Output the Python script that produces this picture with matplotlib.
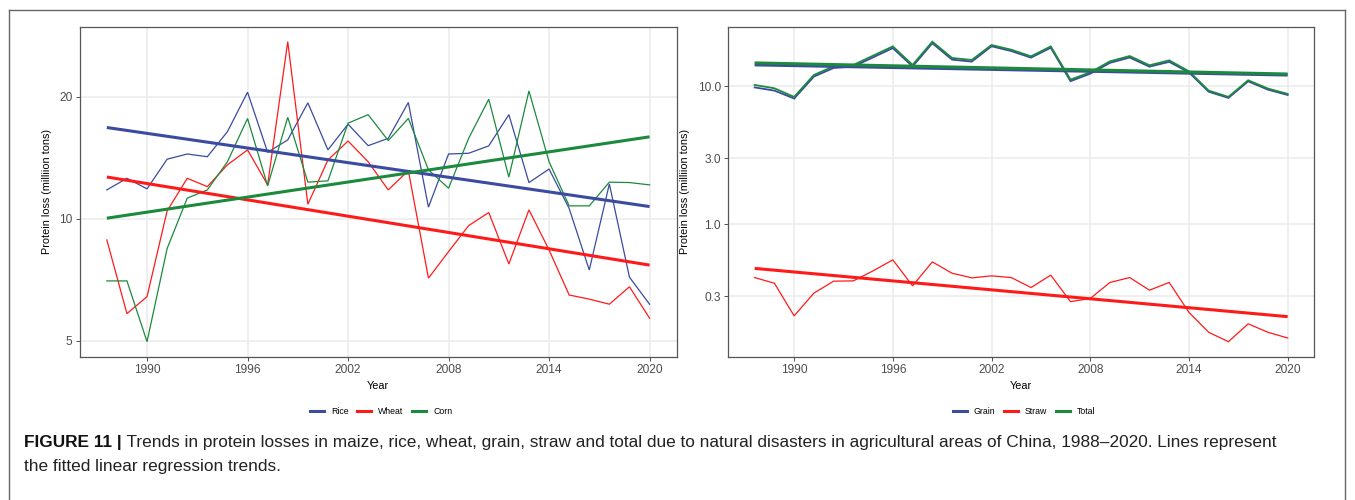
import numpy as np
import matplotlib
matplotlib.use("Agg")
import matplotlib.pyplot as plt
from matplotlib.lines import Line2D

# ---------------- data ----------------
years = [1987.6, 1988.8, 1990.0, 1991.2, 1992.4, 1993.6, 1994.8, 1996.0,
         1997.2, 1998.4, 1999.6, 2000.8, 2002.0, 2003.2, 2004.4, 2005.6,
         2006.8, 2008.0, 2009.2, 2010.4, 2011.6, 2012.8, 2014.0, 2015.2,
         2016.4, 2017.6, 2018.8, 2020.0]

rice = [11.78, 12.58, 11.85, 14.02, 14.44, 14.22, 16.39, 20.5,
        14.58, 15.64, 19.3, 14.78, 17.1, 15.14, 15.78, 19.34,
        10.68, 14.44, 14.5, 15.12, 18.05, 12.28, 13.26, 10.6,
        7.48, 12.18, 7.18, 6.16]

wheat = [8.87, 5.84, 6.43, 10.46, 12.58, 12.0, 13.58, 14.78,
         12.12, 27.3, 10.86, 13.96, 15.54, 13.82, 11.78, 13.14,
         7.14, 8.30, 9.62, 10.36, 7.74, 10.52, 8.38, 6.49,
         6.34, 6.16, 6.80, 5.69]

corn = [7.03, 7.03, 4.98, 8.45, 11.24, 11.78, 13.82, 17.66,
        12.05, 17.78, 12.31, 12.40, 17.2, 18.05, 15.58, 17.67,
        13.2, 11.89, 15.78, 19.7, 12.66, 20.65, 13.82, 10.76,
        10.76, 12.31, 12.28, 12.12]

grain = [9.81, 9.30, 8.15, 11.75, 13.56, 13.88, 16.20, 18.90,
         13.91, 20.50, 15.59, 15.09, 19.48, 17.99, 16.12, 19.02,
         10.89, 12.33, 14.78, 16.15, 13.86, 15.03, 12.60, 9.13,
         8.23, 10.86, 9.45, 8.65]

straw = [0.411, 0.374, 0.217, 0.317, 0.387, 0.389, 0.460, 0.552,
         0.358, 0.534, 0.442, 0.409, 0.423, 0.411, 0.348, 0.428,
         0.275, 0.290, 0.379, 0.411, 0.333, 0.379, 0.230, 0.165,
         0.141, 0.190, 0.165, 0.150]

total = [10.22, 9.67, 8.37, 12.07, 13.95, 14.27, 16.66, 19.45,
         14.27, 21.03, 16.03, 15.5, 19.9, 18.4, 16.47, 19.45,
         11.17, 12.62, 15.16, 16.56, 14.19, 15.41, 12.83, 9.30,
         8.37, 11.05, 9.62, 8.80]

left_names = ["Rice", "Wheat", "Corn"]
right_names = ["Grain", "Straw", "Total"]
x_ticks = [1990, 1996, 2002, 2008, 2014, 2020]
left_yticks = [5, 10, 20]
left_ylabels = ["5", "10", "20"]
right_yticks = [0.3, 1.0, 3.0, 10.0]
right_ylabels = ["0.3", "1.0", "3.0", "10.0"]
x_title = "Year"
y_title = "Protein loss (milliion tons)"
caption_bold = "FIGURE 11 |"
caption_line1 = (" Trends in protein losses in maize, rice, wheat, grain, straw and total due to "
                 "natural disasters in agricultural areas of China, 1988\u20132020. Lines represent")
caption_line2 = "the fitted linear regression trends."

# ---------------- style ----------------
BLUE = "#3B4B9F"
RED = "#FF1A1A"
GREEN = "#1B8A3D"
FONT = "Liberation Sans"
plt.rcParams["font.family"] = [FONT, "DejaVu Sans"]

W, H = 1355, 500
fig = plt.figure(figsize=(W / 100, H / 100), dpi=100)
fig.patch.set_facecolor("white")


def px_axes(x0, y0, x1, y1):
    return fig.add_axes([x0 / W, 1 - y1 / H, (x1 - x0) / W, (y1 - y0) / H])


ax1 = px_axes(79.7, 26.7, 676.7, 356.7)
ax2 = px_axes(728.0, 26.7, 1314.3, 356.7)

xs = np.array(years)


def style(ax, yticks, ylabels, ylabel_x):
    ax.set_yscale("log")
    ax.set_facecolor("white")
    ax.grid(True, which="major", color="#EBEBEB", lw=1.1)
    ax.set_axisbelow(True)
    ax.minorticks_off()
    ax.set_xticks(x_ticks)
    ax.set_xticklabels([str(t) for t in x_ticks])
    ax.set_yticks(yticks)
    ax.set_yticklabels(ylabels)
    ax.tick_params(axis="both", which="major", length=3.2, width=0.6,
                   color="#333333", labelcolor="#4D4D4D", labelsize=8.6, pad=2)
    for s in ax.spines.values():
        s.set_color("#555555")
        s.set_linewidth(0.9)
    ax.set_xlabel(x_title, fontsize=7.8, color="black")
    ax.set_ylabel(y_title, fontsize=7.8, color="black")
    ax.xaxis.set_label_coords(0.5, -0.0736)
    ax.yaxis.set_label_coords(ylabel_x, 0.5)
    # ggplot-like 5% expansion
    span = xs.max() - xs.min()
    ax.set_xlim(xs.min() - 0.05 * span, xs.max() + 0.05 * span)


def draw(ax, series, colors, widths):
    allv = []
    for vals, c, lw in zip(series, colors, widths):
        v = np.array(vals)
        allv.append(v)
        ax.plot(xs, v, color=c, lw=lw, solid_joinstyle="miter", zorder=3)
    for vals, c in zip(series, colors):
        v = np.array(vals)
        coef = np.polyfit(xs, np.log10(v), 1)
        ax.plot(xs, 10 ** np.polyval(coef, xs), color=c, lw=2.2, zorder=4,
                solid_capstyle="butt")
    allv = np.concatenate(allv)
    lo, hi = np.log10(allv.min()), np.log10(allv.max())
    e = 0.05 * (hi - lo)
    ax.set_ylim(10 ** (lo - e), 10 ** (hi + e))


draw(ax1, [rice, wheat, corn], [BLUE, RED, GREEN], [0.9, 0.9, 0.9])
style(ax1, left_yticks, left_ylabels, (52 - 79.7) / 597.0)

draw(ax2, [grain, straw, total], [BLUE, RED, GREEN], [1.3, 0.9, 1.3])
style(ax2, right_yticks, right_ylabels, (690 - 728) / 586.3)

# legends below each panel
for names, cx in ((left_names, (79.7 + 676.7) / 2 + 3), (right_names, (728.0 + 1314.3) / 2 + 3)):
    handles = [Line2D([], [], color=c, lw=2.2) for c in (BLUE, RED, GREEN)]
    fig.legend(handles, names, loc="center", bbox_to_anchor=(cx / W, 1 - 411.5 / H),
               ncol=3, frameon=False, fontsize=6.3, handlelength=1.6,
               handletextpad=0.8, columnspacing=1.0, borderaxespad=0)

# outer frame (open at the bottom)
frame_kw = dict(color="#666666", lw=1.0, transform=fig.transFigure, zorder=10)
fig.add_artist(Line2D([8.5 / W, 8.5 / W], [0, 1 - 10 / H], **frame_kw))
fig.add_artist(Line2D([1345 / W, 1345 / W], [0, 1 - 10 / H], **frame_kw))
fig.add_artist(Line2D([8.5 / W, 1345 / W], [1 - 10 / H, 1 - 10 / H], **frame_kw))

# caption
fig.canvas.draw()
renderer = fig.canvas.get_renderer()
cap_x0 = 24.0
target_w = 1280.0 - cap_x0
fs = 10.5
for _ in range(3):
    tb = fig.text(0, 0, caption_bold, fontsize=fs, fontweight="bold")
    tn = fig.text(0, 0, caption_line1, fontsize=fs)
    wsum = tb.get_window_extent(renderer).width + tn.get_window_extent(renderer).width
    tb.remove()
    tn.remove()
    fs = fs * target_w / wsum

y1 = 1 - 443 / H
y2 = 1 - 466 / H
tb = fig.text(cap_x0 / W, y1, caption_bold, fontsize=fs, fontweight="bold",
              va="center", ha="left", color="#111111")
bw = tb.get_window_extent(renderer).width
fig.text((cap_x0 + bw) / W, y1, caption_line1, fontsize=fs, va="center",
         ha="left", color="#222222")
fig.text(cap_x0 / W, y2, caption_line2, fontsize=fs, va="center", ha="left",
         color="#222222")

fig.savefig("out.png", dpi=100, facecolor="white")
